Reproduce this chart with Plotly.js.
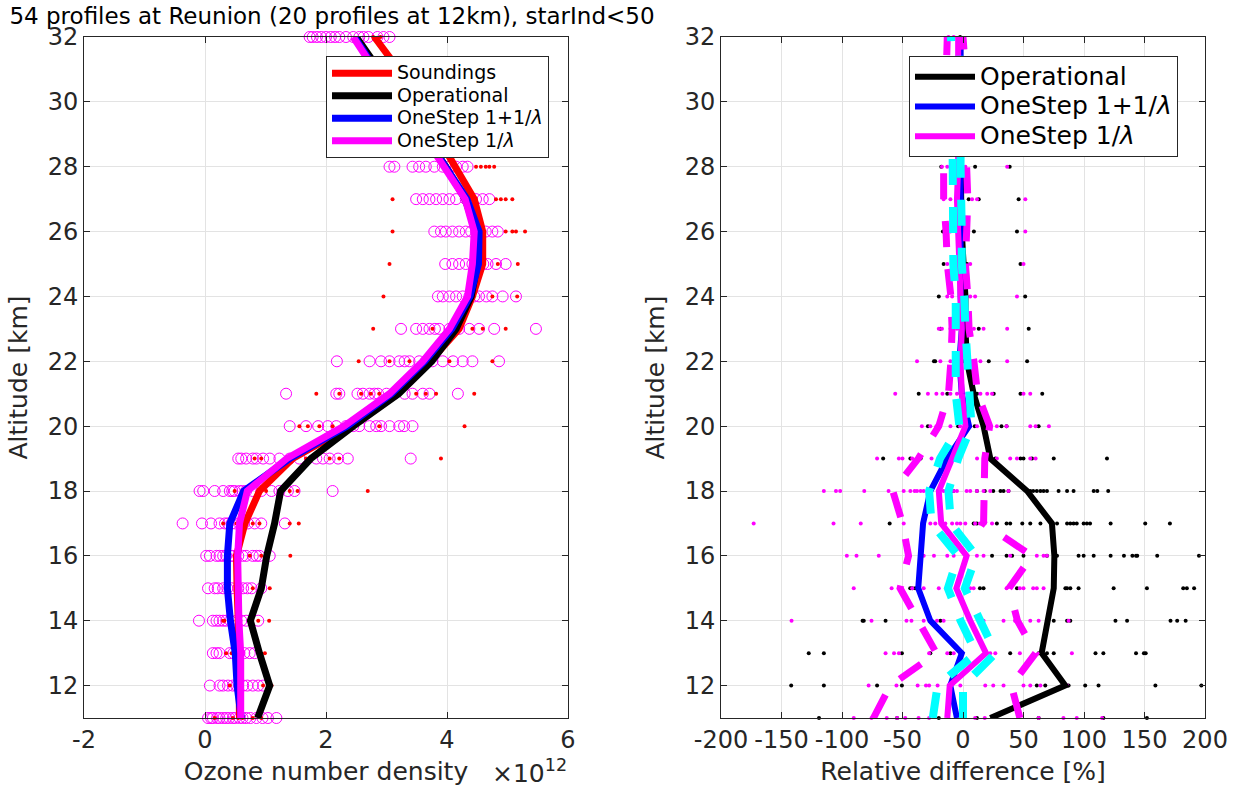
<!DOCTYPE html>
<html>
<head>
<meta charset="utf-8">
<script src="https://cdn.plot.ly/plotly-3.0.1.min.js"></script>
<style>html,body{margin:0;padding:0;background:#fff;} #chart{width:1248px;height:792px;}</style>
</head>
<body>
<div id="chart"></div>
<script>
// ---------- data ----------
const altitude = [11,12,13,14,15,16,17,18,19,20,21,22,23,24,25,26,27,28,29,30,31,32];

// left panel: mean profiles (units of 1e12)
const soundingsMean   = [0.57,0.57,0.57,0.55,0.53,0.52,0.66,0.90,1.45,2.40,3.15,3.72,4.20,4.42,4.59,4.59,4.45,4.12,3.82,3.55,3.20,2.80];
const operationalMean = [0.87,1.07,0.90,0.75,0.93,1.02,1.15,1.25,1.75,2.45,3.20,3.75,4.15,4.40,4.50,4.48,4.30,3.98,3.62,3.25,2.85,2.50];
const oneStepBothMean = [0.60,0.53,0.50,0.42,0.37,0.37,0.41,0.64,1.40,2.35,3.08,3.63,4.08,4.38,4.52,4.53,4.33,3.98,3.62,3.22,2.82,2.47];
const oneStepInvMean  = [0.59,0.60,0.59,0.56,0.55,0.54,0.57,0.70,1.35,2.30,3.05,3.60,4.04,4.34,4.42,4.45,4.30,3.95,3.60,3.20,2.80,2.45];

// left panel: individual retrievals (open circles), one list per altitude level
const retrievalPoints = [
  [0.05,0.10,0.13,0.20,0.24,0.30,0.35,0.40,0.46,0.50,0.57,0.62,0.68,0.75,0.85,0.95,1.04,1.18],
  [0.08,0.24,0.30,0.38,0.46,0.52,0.63,0.70,0.79,0.88,0.96],
  [0.13,0.19,0.24,0.41,0.47,0.57,0.65,0.74,0.82],
  [-0.10,0.13,0.19,0.24,0.30,0.35,0.42,0.52,0.60,0.68,0.88],
  [0.05,0.16,0.21,0.30,0.37,0.44,0.55,0.63,0.70,0.77,0.93],
  [0.02,0.08,0.19,0.24,0.30,0.35,0.42,0.46,0.55,0.62,0.68,0.79,0.85,0.90,1.07],
  [-0.37,-0.05,0.10,0.24,0.33,0.38,0.44,0.50,0.57,0.64,0.71,0.82,0.93,1.32],
  [-0.09,-0.03,0.16,0.30,0.41,0.45,0.49,0.57,0.62,0.68,0.79,0.93,1.10,1.23,1.37,1.48,2.11],
  [0.55,0.60,0.68,0.79,0.85,0.96,1.07,1.23,1.40,1.56,1.84,1.95,2.06,2.20,2.36,3.40],
  [1.40,1.67,1.87,2.03,2.17,2.33,2.45,2.55,2.72,2.83,2.91,3.05,3.21,3.29,3.43],
  [1.34,2.17,2.22,2.52,2.61,2.72,2.80,2.86,3.00,3.13,3.30,3.43,3.60,3.71,4.18],
  [2.18,2.72,2.91,3.05,3.21,3.30,3.38,3.54,3.65,3.76,3.93,4.10,4.26,4.42,4.86],
  [3.24,3.49,3.60,3.71,3.80,3.87,4.04,4.12,4.20,4.37,4.53,4.78,5.47],
  [3.85,3.93,4.04,4.15,4.26,4.37,4.45,4.53,4.65,4.75,4.92,5.14],
  [3.97,4.09,4.20,4.31,4.42,4.53,4.60,4.67,4.81,4.97],
  [3.79,3.90,3.98,4.09,4.20,4.31,4.40,4.48,4.64,4.75,4.84],
  [3.49,3.60,3.71,3.82,3.93,4.04,4.15,4.31,4.48,4.59,4.70],
  [3.05,3.13,3.43,3.54,3.65,3.79,3.93,4.04,4.15,4.26,4.34],
  [],[],[],
  [1.73,1.78,1.85,1.92,2.00,2.08,2.15,2.22,2.33,2.45,2.55,2.62,2.70,2.85,2.95,3.05]
];
// left panel: individual soundings (red dots)
const soundingPoints = [
  [0.16,0.46,0.55,0.62,0.79,0.93],
  [0.41,0.52,0.60,0.96,1.10],
  [0.35,0.44,0.99],
  [0.30,0.32,0.52,0.88,1.06],
  [0.52,0.79,1.07],
  [0.49,0.74,0.93,1.41],
  [0.30,0.52,0.79,0.90,1.40,1.55],
  [0.49,0.63,1.01,1.23,1.40,1.53,2.69],
  [0.82,0.93,1.67,2.06,2.22,3.90],
  [1.56,1.70,1.89,2.11,2.88,4.29],
  [1.84,2.22,2.58,2.74,2.88,3.49,3.65,3.82,4.45],
  [2.54,3.05,3.38,4.04,4.75],
  [2.78,3.76,4.42,4.59,4.97],
  [2.95,4.75,5.16],
  [3.05,4.84,5.17],
  [3.10,4.97,5.08,5.14,5.29],
  [3.10,4.81,4.89,4.97,5.08],
  [4.48,4.56,4.64,4.70,4.78],
  [],[],[],
  [2.78,2.90]
];

// right panel: mean relative differences [%]
const opRelMean     = [22.6,84.5,65,70.6,75,75.5,73.5,53,22.6,17,8.8,3.3,2,2,0,-1,-1.5,-2,-2.5,-3,-3,-3];
const bothRelMean   = [-5,-10.5,-1,-27,-37,-34.5,-33,-27,-13,5,-1,-3,-1,-2,-2,-2,-2,-2,-2,-2,-2,-2];
const invRelMean    = [-13,-11,19,6,-5.5,3,-18,-20,-9,2,-1,-2,-1,-2,-4,-4,-5,-4,-4,-4,-4,-4];
// right panel: OneStep 1/lambda spread (magenta dashed) and standard error (cyan dashed)
const invStdLow     = [-74,-60,-22,-37,-52,-45,-50,-58,-37,-20,-12,-10,-9,-10,-13,-14,-16,-16,-15,-14,-13,-13];
const invStdHigh    = [47,40,60,45,38,57,17,18,18,22,12,9,5,4,2,3,4,3,3,3,2,0];
const invErrLow     = [-25,-21,11,-2,-12.5,-4,-26,-28,-19,-3,-6,-6,-5,-6,-8,-8,-9,-9,-9,-9,-9,-10];
const invErrHigh    = [0,0,27,14,1.5,11,-10,-12,-4,7,5,3,2,1,-1,-1,-2,-2,-2,-2,-2,-3];

// right panel: individual relative differences
const opRelPoints = [
  [-119,-54.5,-20,11.5,62.5,116,152],
  [-142,-115,-71,-50.5,61,68,87.3,101,112,159,197],
  [-127.5,-115,-50.5,-27,-10.4,39,62.5,69.4,75,109.5,116,143,149.5,151],
  [-83,-82,-64,-18.7,44.6,75,86,88.7,126,135.6,171.5,177,184],
  [-43.6,-42,-39.5,14,17,44.6,84.6,86,88.7,95.5,124.5,152,182,185,191],
  [24,36,40.6,50,69.4,77.7,95.5,99.7,108,122,133,140,143,144,160.5,195],
  [-60.6,8.8,11.5,28,36,39,49,55.6,64,73.6,77.7,86,88.7,91.4,94,99.7,102.4,105,122,150.6,171],
  [-8,11.5,18,25,31,33.5,37.6,55.6,58,61,64,66.6,69.4,79,86,91.4,108,111,120],
  [-66,-43.5,-35,-10.4,26.7,47.5,50,57,75,119],
  [-29,-4,9.7,20.8,31.8,36,62.5],
  [-36.6,-13,11.6,25.4,47.5,65.5],
  [-24,-23,0.6,21.3,53],
  [-18.7,6,13,54.3],
  [-20,2,51.4],
  [-16,3.3,47.5],
  [-16.6,9,44.6],
  [4.7,13,46],
  [-18,10,38.6],
  [],[],[],
  [-2.4]
];
const invRelPoints = [
  [-90.3,-75.6,-63,-54.5,-47.7,-36.7,-28,10,18,62.5,83,94,115],
  [-78,-55,-37.5,-30.6,-28,-21,-2.2,18.4,25,33.5,50,55.6,64,86],
  [-64,-57,-53,-28,-13,-7.7,-2.2,22.5,26.7,47,64,90],
  [-141.7,-75.6,-46.7,-42.6,-32.5,-21.5,-16,14,17,33.5,43,55.6,62.5,87.3],
  [-90.3,-59,-42,-32.5,-20,-11.9,-5,6,8.8,36,47,50,58,61,66.6],
  [-96,-88,-69.6,-46,-32.5,-24,-13,-7.7,3,11.5,17,39,61,66.6,69.4],
  [-173,-107,-84.5,-49,-32.5,-27,-22.9,-14.6,-9,-5,-2.2,1.9,10,14,18,24],
  [-115,-105,-101.5,-81.6,-61.5,-49,-43.5,-40,-38,-35,-32.5,-20,-16,-7.7,-5,3,6,11.5,17,22.5,37.6],
  [-71,-53,-50,-42,-26,-2.4,11.6,28,39,44.6,55.6,60],
  [-34,-27,-22,-10.4,-2.4,6,11.6,17,22.6,28,36,55.6,60,71],
  [-56,-29,-22,-17,-10.4,-5,0.6,14.4,20,24,50,55.6],
  [-38,-18.7,-10.4,-2.4,6,14.4,36.5],
  [-20,-17.4,-10.4,-5,3.3,9,17,36.5],
  [-13,-9,-2.4,6,10,44.6],
  [-13,-7.7,0.6,6,50],
  [-14.6,-10.4,-5,2,51.5],
  [-16,-10.4,-2.4,7.5,11.6,51.5],
  [-17.4,-13,-2.4,2,36.5],
  [],[],[],
  [-12,-7.7]
];

const titleText = '54 profiles at Reunion (20 profiles at 12km), starInd<50';
const seriesNames = ['Soundings','Operational','OneStep 1+1/<i>λ</i>','OneStep 1/<i>λ</i>'];
const yTickVals = [12,14,16,18,20,22,24,26,28,30,32];
const densityTickVals = [-2,0,2,4,6];
const densityTickText = ['-2','0','2','4','6'];
const relTickVals = [-200,-150,-100,-50,0,50,100,150,200];
const relTickText = ['-200','-150','-100','-50','0','50','100','150','200'];

// ---------- build ----------
function flatten(lists) {
  const x = [], y = [];
  lists.forEach((vals, i) => vals.forEach(v => { x.push(v); y.push(altitude[i]); }));
  return {x, y};
}
function sized(name, px) { return '<span style="font-size:' + px + 'px">' + name + '</span>'; }
const FONT = 'DejaVu Sans, Verdana, sans-serif';
const TXT = '#262626';

const rp = flatten(retrievalPoints), sp = flatten(soundingPoints);
const op = flatten(opRelPoints), ip = flatten(invRelPoints);

const traces = [
  {x: rp.x, y: rp.y, mode: 'markers', type: 'scatter', showlegend: false, cliponaxis: false,
   marker: {symbol: 'circle-open', size: 11, color: '#ff00ff', line: {width: 1, color: '#ff00ff'}}, xaxis: 'x', yaxis: 'y'},
  {x: sp.x, y: sp.y, mode: 'markers', type: 'scatter', showlegend: false, cliponaxis: false,
   marker: {size: 4, color: '#ff0000'}, xaxis: 'x', yaxis: 'y'},
  {x: soundingsMean, y: altitude, mode: 'lines', name: sized(seriesNames[0], 19), line: {color: '#ff0000', width: 7}, xaxis: 'x', yaxis: 'y', legend: 'legend'},
  {x: operationalMean, y: altitude, mode: 'lines', name: sized(seriesNames[1], 19), line: {color: '#000000', width: 7}, xaxis: 'x', yaxis: 'y', legend: 'legend'},
  {x: oneStepBothMean, y: altitude, mode: 'lines', name: sized(seriesNames[2], 19), line: {color: '#0000ff', width: 7}, xaxis: 'x', yaxis: 'y', legend: 'legend'},
  {x: oneStepInvMean, y: altitude, mode: 'lines', name: sized(seriesNames[3], 19), line: {color: '#ff00ff', width: 7}, xaxis: 'x', yaxis: 'y', legend: 'legend'},

  {x: op.x, y: op.y, mode: 'markers', type: 'scatter', showlegend: false, cliponaxis: false,
   marker: {size: 4, color: '#000000'}, xaxis: 'x2', yaxis: 'y2'},
  {x: ip.x, y: ip.y, mode: 'markers', type: 'scatter', showlegend: false, cliponaxis: false,
   marker: {size: 4, color: '#ff00ff'}, xaxis: 'x2', yaxis: 'y2'},
  {x: opRelMean, y: altitude, mode: 'lines', name: sized(seriesNames[1], 25), line: {color: '#000000', width: 6}, xaxis: 'x2', yaxis: 'y2', legend: 'legend2'},
  {x: bothRelMean, y: altitude, mode: 'lines', name: sized(seriesNames[2], 25), line: {color: '#0000ff', width: 6}, xaxis: 'x2', yaxis: 'y2', legend: 'legend2'},
  {x: invRelMean, y: altitude, mode: 'lines', name: sized(seriesNames[3], 25), line: {color: '#ff00ff', width: 6}, xaxis: 'x2', yaxis: 'y2', legend: 'legend2'},
  {x: invStdLow, y: altitude, mode: 'lines', showlegend: false, line: {color: '#ff00ff', width: 7, dash: '26px,22px'}, xaxis: 'x2', yaxis: 'y2'},
  {x: invStdHigh, y: altitude, mode: 'lines', showlegend: false, line: {color: '#ff00ff', width: 7, dash: '26px,22px'}, xaxis: 'x2', yaxis: 'y2'},
  {x: invErrLow, y: altitude, mode: 'lines', showlegend: false, line: {color: '#00ffff', width: 8, dash: '26px,22px'}, xaxis: 'x2', yaxis: 'y2'},
  {x: invErrHigh, y: altitude, mode: 'lines', showlegend: false, line: {color: '#00ffff', width: 8, dash: '26px,22px'}, xaxis: 'x2', yaxis: 'y2'}
];

const W = 1248, H = 792;
const yDom = [(H - 718) / H, (H - 37) / H];
const axisCommon = {
  showline: true, linecolor: TXT, linewidth: 1, mirror: 'ticks', ticks: 'inside', ticklen: 6, tickcolor: TXT,
  showgrid: true, gridcolor: '#e3e3e3', gridwidth: 1, zeroline: false, automargin: false, tickangle: 0,
  tickfont: {family: FONT, size: 24, color: TXT}
};
const titleFont = {family: FONT, size: 25, color: TXT};

const layout = {
  width: W, height: H,
  margin: {l: 0, r: 0, t: 0, b: 0},
  paper_bgcolor: '#ffffff', plot_bgcolor: '#ffffff',
  font: {family: FONT, color: TXT},
  title: {text: titleText, x: 332 / W, xanchor: 'center', xref: 'paper', y: 1 - 16 / H, yanchor: 'middle', yref: 'container',
          font: {family: FONT, size: 23, color: '#000000'}},
  xaxis: Object.assign({}, axisCommon, {domain: [84 / W, 568 / W], range: [-2, 6], tickvals: densityTickVals, ticktext: densityTickText, anchor: 'y',
          title: {text: 'Ozone number density', standoff: 9, font: titleFont}}),
  yaxis: Object.assign({}, axisCommon, {domain: yDom, range: [11, 32], tickvals: yTickVals, anchor: 'x',
          title: {text: 'Altitude [km]', standoff: 12, font: titleFont}}),
  xaxis2: Object.assign({}, axisCommon, {domain: [721 / W, 1205 / W], range: [-200, 200], tickvals: relTickVals, ticktext: relTickText, anchor: 'y2',
          title: {text: 'Relative difference [%]', standoff: 9, font: titleFont}}),
  yaxis2: Object.assign({}, axisCommon, {domain: yDom, range: [11, 32], tickvals: yTickVals, anchor: 'x2',
          title: {text: 'Altitude [km]', standoff: 12, font: titleFont}}),
  legend: {x: 326 / W, y: 1 - 56 / H, xanchor: 'left', yanchor: 'top', bgcolor: '#ffffff', bordercolor: TXT, borderwidth: 1,
           font: {family: FONT, size: 15, color: '#000000'}, itemwidth: 60, tracegroupgap: 0},
  legend2: {x: 909 / W, y: 1 - 56 / H, xanchor: 'left', yanchor: 'top', bgcolor: '#ffffff', bordercolor: TXT, borderwidth: 1,
           font: {family: FONT, size: 20.5, color: '#000000'}, itemwidth: 60, tracegroupgap: 0},
  annotations: [
    {text: '×10<sup>12</sup>', xref: 'paper', yref: 'paper', x: 490 / W, y: 1 - 790 / H, xanchor: 'left', yanchor: 'bottom',
     showarrow: false, font: {family: FONT, size: 25, color: TXT}}
  ]
};

Plotly.newPlot('chart', traces, layout, {staticPlot: true});
</script>
</body>
</html>
